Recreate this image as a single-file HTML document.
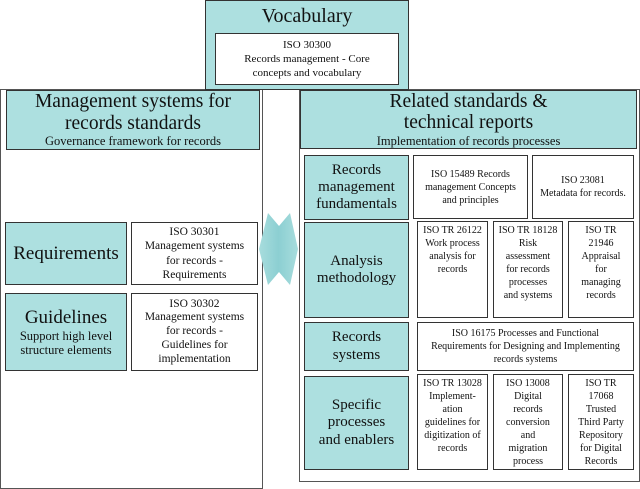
<!DOCTYPE html>
<html><head><meta charset="utf-8"><style>
body{margin:0;width:640px;height:482px;background:#fff;position:relative;overflow:hidden;font-family:"Liberation Serif",serif;color:#111}
.b{position:absolute;box-sizing:border-box;border:1.5px solid #333;display:flex;flex-direction:column;align-items:center;justify-content:center;text-align:center;line-height:1.15}
.t{background:#ade0e0}
.w{background:#fff}
.s{font-size:10px;line-height:1.3}
.top{justify-content:flex-start;padding-top:2px}
</style></head><body>
<div class="b" style="left:0;top:89px;width:263px;height:400px;border-color:#555"></div>
<div class="b" style="left:299px;top:89px;width:341px;height:393px;border-color:#555"></div>
<div class="b t" style="left:205px;top:0;width:204px;height:90px;justify-content:flex-start;padding-top:4px"><div style="font-size:20px">Vocabulary</div></div>
<div class="b w s" style="left:215px;top:33px;width:184px;height:52px;font-size:11px">ISO 30300<br>Records management - Core<br>concepts and vocabulary</div>

<div class="b t" style="left:6px;top:90px;width:254px;height:60px"><div style="font-size:19.5px;line-height:1.1">Management systems for<br>records standards</div><div style="font-size:12.5px">Governance framework for records</div></div>
<div class="b t" style="left:300px;top:90px;width:337px;height:59px"><div style="font-size:19.5px;line-height:1.1">Related standards &amp;<br>technical reports</div><div style="font-size:12.5px">Implementation of records processes</div></div>

<div class="b t" style="left:5px;top:222px;width:122px;height:63px;font-size:19px">Requirements</div>
<div class="b w" style="left:131px;top:222px;width:127px;height:63px;font-size:11.5px;line-height:1.25">ISO 30301<br>Management systems<br>for records -<br>Requirements</div>
<div class="b t" style="left:5px;top:293px;width:122px;height:78px"><div style="font-size:19px">Guidelines</div><div style="font-size:12.5px">Support high level<br>structure elements</div></div>
<div class="b w" style="left:131px;top:293px;width:127px;height:78px;font-size:11.5px;line-height:1.2">ISO 30302<br>Management systems<br>for records -<br>Guidelines for<br>implementation</div>

<svg style="position:absolute;left:0;top:0" width="640" height="482"><defs><linearGradient id="g" x1="0" x2="1"><stop offset="0" stop-color="#a8dddd"/><stop offset=".5" stop-color="#8ccfd2"/><stop offset="1" stop-color="#a8dddd"/></linearGradient></defs>
<polygon points="259,249 268,213 279,226 290,213 298,249 290,285 279,272 268,285" fill="url(#g)"/></svg>

<div class="b t" style="left:304px;top:155px;width:105px;height:65px;font-size:15px">Records<br>management<br>fundamentals</div>
<div class="b w s" style="left:413px;top:155px;width:115px;height:64px">ISO 15489 Records<br>management Concepts<br>and principles</div>
<div class="b w s" style="left:532px;top:155px;width:102px;height:64px">ISO 23081<br>Metadata for records.</div>

<div class="b t" style="left:304px;top:222px;width:105px;height:96px;font-size:15px">Analysis<br>methodology</div>
<div class="b w s top" style="left:417px;top:221px;width:71px;height:97px">ISO TR 26122<br>Work process<br>analysis for<br>records</div>
<div class="b w s top" style="left:493px;top:221px;width:70px;height:97px">ISO TR 18128<br>Risk<br>assessment<br>for records<br>processes<br>and systems</div>
<div class="b w s top" style="left:568px;top:221px;width:66px;height:97px">ISO TR<br>21946<br>Appraisal<br>for<br>managing<br>records</div>

<div class="b t" style="left:304px;top:322px;width:105px;height:49px;font-size:15px">Records<br>systems</div>
<div class="b w s" style="left:417px;top:322px;width:217px;height:49px">ISO 16175 Processes and Functional<br>Requirements for Designing and Implementing<br>records systems</div>

<div class="b t" style="left:304px;top:376px;width:105px;height:94px;font-size:15px">Specific<br>processes<br>and enablers</div>
<div class="b w s top" style="left:417px;top:374px;width:71px;height:96px">ISO TR 13028<br>Implement-<br>ation<br>guidelines for<br>digitization of<br>records</div>
<div class="b w s top" style="left:493px;top:374px;width:70px;height:96px">ISO 13008<br>Digital<br>records<br>conversion<br>and<br>migration<br>process</div>
<div class="b w s top" style="left:568px;top:374px;width:66px;height:96px">ISO TR<br>17068<br>Trusted<br>Third Party<br>Repository<br>for Digital<br>Records</div>
</body></html>
